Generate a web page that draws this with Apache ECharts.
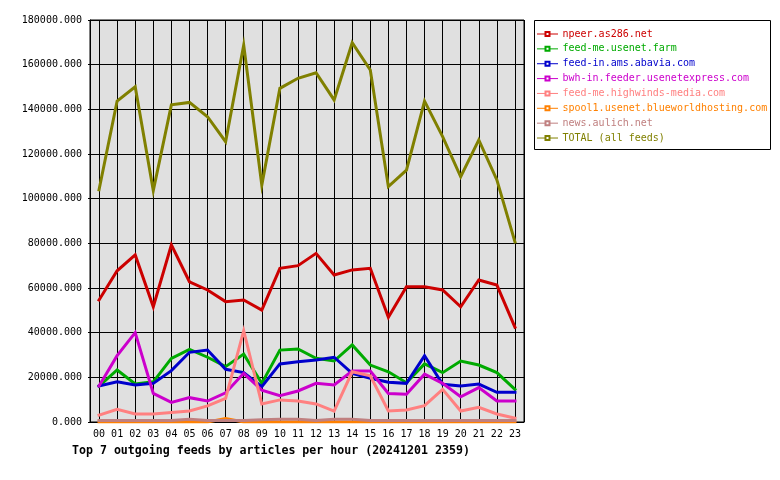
<!DOCTYPE html>
<html lang="en">
<head>
  <meta charset="UTF-8">
  <title>Top 7 outgoing feeds</title>
  <style>
    html, body { margin: 0; padding: 0; background: #fff; }
    #chart { width: 780px; height: 480px; }
  </style>
</head>
<body>
  <div id="chart"></div>
</body>
<script src="https://cdn.jsdelivr.net/npm/echarts@6/dist/echarts.min.js"></script>
<script>
  // hours of the day
  let hours = ['00', '01', '02', '03', '04', '05', '06', '07', '08', '09', '10', '11',
    '12', '13', '14', '15', '16', '17', '18', '19', '20', '21', '22', '23']

  let feedNames = [
    'npeer.as286.net',
    'feed-me.usenet.farm',
    'feed-in.ams.abavia.com',
    'bwh-in.feeder.usenetexpress.com',
    'feed-me.highwinds-media.com',
    'spool1.usenet.blueworldhosting.com',
    'news.aulich.net',
    'TOTAL (all feeds)'
  ]
  let feedColors = ['#cc0000', '#00aa00', '#0000cc', '#cc00cc', '#ff8080', '#ff8000', '#c08080', '#808000']

  // articles per hour
  let npeer = [54600, 67700, 74800, 51600, 79300, 62800, 59100, 53900, 54600, 50100, 68800, 70000,
    75500, 65800, 68100, 68800, 46900, 60600, 60600, 59100, 51600, 63600, 61300, 42400]
  let usenetFarm = [16100, 23300, 17000, 18000, 28500, 32500, 29000, 24800, 30400, 17300, 32200, 32700,
    28500, 27300, 34500, 25500, 22500, 17600, 26000, 22100, 27300, 25500, 22100, 14600]
  let abavia = [16100, 18000, 16600, 17300, 23000, 31200, 32200, 23600, 22100, 15800, 26000, 27000,
    27800, 29000, 21800, 19600, 17800, 17300, 29700, 16900, 16100, 17000, 13300, 13300]
  let usenetExpress = [16100, 29700, 40000, 12800, 8800, 10900, 9400, 13100, 21800, 14300, 11800, 13900,
    17300, 16600, 22800, 22800, 12800, 12400, 21400, 17300, 11300, 15400, 9400, 9400]
  let highwinds = [3100, 5700, 3600, 3600, 4200, 4900, 7200, 10600, 40900, 8100, 9900, 9400,
    8100, 4900, 22500, 20700, 4900, 5400, 7300, 14600, 4900, 6600, 3600, 1700]
  let blueworld = [0, 0, 0, 0, 0, 0, 0, 1500, 0, 0, 0, 0,
    0, 0, 0, 0, 0, 0, 0, 0, 0, 0, 0, 0]
  let aulich = [700, 700, 700, 700, 700, 1200, 700, 700, 700, 1000, 1200, 1200,
    700, 1200, 1200, 700, 700, 700, 700, 700, 700, 700, 700, 700]
  let total = [104000, 143700, 150100, 103600, 142000, 143100, 136700, 125500, 168800, 106100, 149400, 153900,
    156400, 144200, 169800, 157600, 105400, 112800, 143700, 127800, 109800, 126300, 108400, 80600]

  let feedValues = [npeer, usenetFarm, abavia, usenetExpress, highwinds, blueworld, aulich, total]

  // half-hour slots, only used to put the vertical grid lines on the hour centres
  let halfHours = []
  hours.forEach(h => { halfHours.push(h + ':00', h + ':30') })

  let font = 'DejaVu Sans Mono'
  let chart = echarts.init(document.getElementById('chart'))

  let series = feedNames.map((name, i) => {
    return {
      name: name,
      type: 'line',
      data: feedValues[i],
      symbol: 'emptyRect',
      showSymbol: false,
      color: feedColors[i],
      lineStyle: { width: 3, color: feedColors[i], cap: 'square', join: 'miter' },
      emphasis: { disabled: true },
      z: 2 + i
    }
  })

  chart.setOption({
    animation: false,
    backgroundColor: '#fff',
    title: {
      text: 'Top 7 outgoing feeds by articles per hour (20241201 2359)',
      left: 72,
      top: 445,
      padding: 0,
      textStyle: { fontFamily: font, fontSize: 11.6, fontWeight: 'bold', color: '#000' }
    },
    grid: {
      left: 90,
      top: 20,
      width: 434,
      height: 402,
      show: true,
      backgroundColor: '#e0e0e0',
      borderColor: '#000',
      borderWidth: 1,
      containLabel: false
    },
    graphic: [
      {
        type: 'rect',
        shape: { x: 534.5, y: 20.5, width: 236, height: 129 },
        style: { fill: '#fff', stroke: '#000', lineWidth: 1 },
        z: 0
      }
    ],
    legend: {
      orient: 'vertical',
      left: 537,
      top: 28,
      padding: 0,
      itemWidth: 20,
      itemHeight: 5,
      itemGap: 2.86,
      selectedMode: false,
      lineStyle: { width: 1 },
      textStyle: { fontFamily: font, fontSize: 10, lineHeight: 12 },
      data: feedNames.map((n, i) => ({ name: n, textStyle: { color: feedColors[i] } }))
    },
    xAxis: [
      {
        type: 'category',
        data: hours,
        boundaryGap: true,
        axisLine: { lineStyle: { color: '#000', width: 1 } },
        axisTick: { alignWithLabel: true, length: 5, lineStyle: { color: '#000' } },
        axisLabel: { color: '#000', fontFamily: font, fontSize: 10, margin: 7, interval: 0 },
        splitLine: { show: false }
      },
      {
        type: 'category',
        data: halfHours,
        boundaryGap: true,
        position: 'bottom',
        axisLine: { show: false },
        axisTick: { show: false },
        axisLabel: { show: false },
        splitLine: {
          show: true,
          interval: idx => idx % 2 === 1,
          lineStyle: { color: '#000', width: 1 }
        }
      }
    ],
    yAxis: {
      type: 'value',
      min: 0,
      max: 180000,
      interval: 20000,
      axisLine: { show: true, lineStyle: { color: '#000', width: 1 } },
      axisTick: { show: true, length: 2, lineStyle: { color: '#000' } },
      axisLabel: {
        color: '#000',
        fontFamily: font,
        fontSize: 10,
        margin: 8,
        formatter: v => v.toFixed(3)
      },
      splitLine: { show: true, lineStyle: { color: '#000', width: 1 } }
    },
    series: series
  })
</script>
</html>
